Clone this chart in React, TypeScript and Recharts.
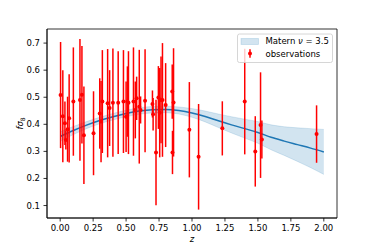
import React from "react";
import {
  ComposedChart,
  Area,
  Line,
  Scatter,
  ErrorBar,
  XAxis,
  YAxis,
  ReferenceArea,
} from "recharts";

// Gaussian-process prediction grid
const gpZ = [0, 0.1, 0.2, 0.3, 0.4, 0.5, 0.6, 0.7, 0.8, 0.9, 1.0, 1.1, 1.2, 1.3, 1.4, 1.5, 1.6, 1.7, 1.8, 1.9, 2.0];
const gpMean = [0.355, 0.377, 0.397, 0.414, 0.428, 0.44, 0.449, 0.454, 0.455, 0.451, 0.442, 0.429, 0.413, 0.398, 0.384, 0.37, 0.352, 0.338, 0.325, 0.312, 0.298];
const gpLower = [0.337, 0.362, 0.384, 0.402, 0.416, 0.428, 0.437, 0.442, 0.443, 0.438, 0.426, 0.409, 0.388, 0.368, 0.349, 0.33, 0.306, 0.285, 0.263, 0.24, 0.215];
const gpUpper = [0.373, 0.392, 0.41, 0.426, 0.44, 0.452, 0.461, 0.466, 0.467, 0.464, 0.458, 0.449, 0.438, 0.428, 0.419, 0.41, 0.398, 0.391, 0.387, 0.384, 0.381];

// Observations: redshift, f sigma8, 1-sigma error
const obsZ = [0.003, 0.02, 0.036, 0.043, 0.056, 0.068, 0.1, 0.15, 0.165, 0.18, 0.253, 0.3, 0.31, 0.32, 0.36, 0.375, 0.4, 0.44, 0.48, 0.5, 0.51, 0.518, 0.556, 0.57, 0.58, 0.6, 0.61, 0.644, 0.7, 0.705, 0.727, 0.745, 0.755, 0.765, 0.776, 0.8, 0.85, 0.852, 0.86, 0.98, 1.05, 1.23, 1.4, 1.48, 1.52, 1.53, 1.945];
const obsF = [0.508, 0.43, 0.404, 0.342, 0.382, 0.422, 0.484, 0.49, 0.509, 0.36, 0.367, 0.44, 0.41, 0.484, 0.478, 0.46, 0.48, 0.48, 0.484, 0.428, 0.484, 0.48, 0.484, 0.453, 0.496, 0.465, 0.453, 0.487, 0.475, 0.437, 0.296, 0.499, 0.443, 0.49, 0.49, 0.471, 0.521, 0.296, 0.481, 0.38, 0.28, 0.385, 0.484, 0.3, 0.397, 0.344, 0.364];
const obsErr = [0.196, 0.17, 0.08, 0.035, 0.12, 0.163, 0.2, 0.225, 0.18, 0.18, 0.155, 0.13, 0.15, 0.19, 0.2, 0.14, 0.2, 0.19, 0.19, 0.13, 0.13, 0.19, 0.2, 0.105, 0.08, 0.21, 0.05, 0.19, 0.05, 0.06, 0.195, 0.116, 0.165, 0.16, 0.21, 0.155, 0.1, 0.08, 0.2, 0.176, 0.195, 0.1, 0.195, 0.13, 0.195, 0.07, 0.106];

const xTicks = [0, 0.25, 0.5, 0.75, 1.0, 1.25, 1.5, 1.75, 2.0];
const yTicks = [0.1, 0.2, 0.3, 0.4, 0.5, 0.6, 0.7];
const xDomain: [number, number] = [-0.1, 2.1];
const yDomain: [number, number] = [0.054, 0.752];

const gpData = gpZ.map((z, i) => ({ z, mean: gpMean[i], band: [gpLower[i], gpUpper[i]] }));
const obsData = obsZ.map((z, i) => ({ z, f: obsF[i], err: obsErr[i] }));

const FONT = "'DejaVu Sans', sans-serif";
const FS = 8.5;
const BLUE = "#1f77b4";
const RED = "#ff0000";

const YLabel = (props: any) => {
  const vb = props.viewBox || { x: 0, y: 29, width: 47, height: 189 };
  const cx = 22.5;
  const cy = vb.y + vb.height / 2;
  return (
    <text
      x={cx}
      y={cy}
      transform={`rotate(-90, ${cx}, ${cy})`}
      textAnchor="middle"
      fontFamily={FONT}
      fontSize={FS}
      fill="#000"
    >
      <tspan fontStyle="italic">fσ</tspan>
      <tspan fontSize={6} dy={2}>8</tspan>
    </text>
  );
};

const XLabel = (props: any) => {
  const vb = props.viewBox || { x: 47, y: 218, width: 290, height: 31 };
  return (
    <text
      x={vb.x + vb.width / 2}
      y={242}
      textAnchor="middle"
      fontFamily={FONT}
      fontSize={FS}
      fontStyle="italic"
      fill="#000"
    >
      z
    </text>
  );
};

const Dot = (p: any) => <circle cx={p.cx} cy={p.cy} r={2} fill={RED} />;

export default function App() {
  return (
    <div style={{ position: "absolute", left: 0, top: 0, width: 374, height: 249, background: "#fff" }}>
      <ComposedChart
        width={374}
        height={249}
        margin={{ top: 29, right: 37, bottom: 0, left: 0 }}
      >
        <XAxis
          dataKey="z"
          type="number"
          domain={xDomain}
          ticks={xTicks}
          allowDataOverflow
          height={31}
          tickSize={3.5}
          tickMargin={3.5}
          tickFormatter={(v: number) => v.toFixed(2)}
          tick={{ fontFamily: FONT, fontSize: FS, fill: "#000" }}
          axisLine={{ stroke: "#000", strokeWidth: 0.8 }}
          tickLine={{ stroke: "#000", strokeWidth: 0.8 }}
          label={<XLabel />}
        />
        <YAxis
          type="number"
          domain={yDomain}
          ticks={yTicks}
          allowDataOverflow
          width={47}
          tickSize={3.5}
          tickMargin={3.5}
          tickFormatter={(v: number) => v.toFixed(1)}
          tick={{ fontFamily: FONT, fontSize: FS, fill: "#000" }}
          axisLine={{ stroke: "#000", strokeWidth: 0.8 }}
          tickLine={{ stroke: "#000", strokeWidth: 0.8 }}
          label={<YLabel />}
        />
        <ReferenceArea
          x1={xDomain[0]}
          x2={xDomain[1]}
          y1={yDomain[0]}
          y2={yDomain[1]}
          fill="none"
          stroke="#000"
          strokeWidth={0.8}
          ifOverflow="visible"
        />
        <Area
          data={gpData}
          dataKey="band"
          type="monotone"
          fill={BLUE}
          fillOpacity={0.2}
          stroke={BLUE}
          strokeOpacity={0.2}
          strokeWidth={0.8}
          isAnimationActive={false}
          dot={false}
          activeDot={false}
        />
        <Line
          data={gpData}
          dataKey="mean"
          type="monotone"
          stroke={BLUE}
          strokeWidth={1.5}
          dot={false}
          activeDot={false}
          isAnimationActive={false}
        />
        <Scatter data={obsData} dataKey="f" shape={Dot} isAnimationActive={false}>
          <ErrorBar dataKey="err" direction="y" width={0} stroke={RED} strokeWidth={1.5} />
        </Scatter>
      </ComposedChart>
      <svg
        width={374}
        height={249}
        style={{ position: "absolute", left: 0, top: 0, pointerEvents: "none" }}
      >
        <rect x={237.5} y={34} width={95} height={28.5} rx={2} fill="#fff" fillOpacity={0.8} stroke="#cccccc" strokeWidth={0.8} />
        <rect x={241} y={38.5} width={17.5} height={6} fill={BLUE} fillOpacity={0.2} stroke={BLUE} strokeOpacity={0.2} strokeWidth={0.8} />
        <text x={265.5} y={44.3} fontFamily={FONT} fontSize={FS} fill="#000">
          Matern <tspan fontStyle="italic">ν</tspan> = 3.5
        </text>
        <line x1={250} x2={250} y1={49.3} y2={57.7} stroke={RED} strokeWidth={1.5} />
        <circle cx={250} cy={53.5} r={2} fill={RED} />
        <text x={265.5} y={56.7} fontFamily={FONT} fontSize={FS} fill="#000">
          observations
        </text>
      </svg>
    </div>
  );
}
